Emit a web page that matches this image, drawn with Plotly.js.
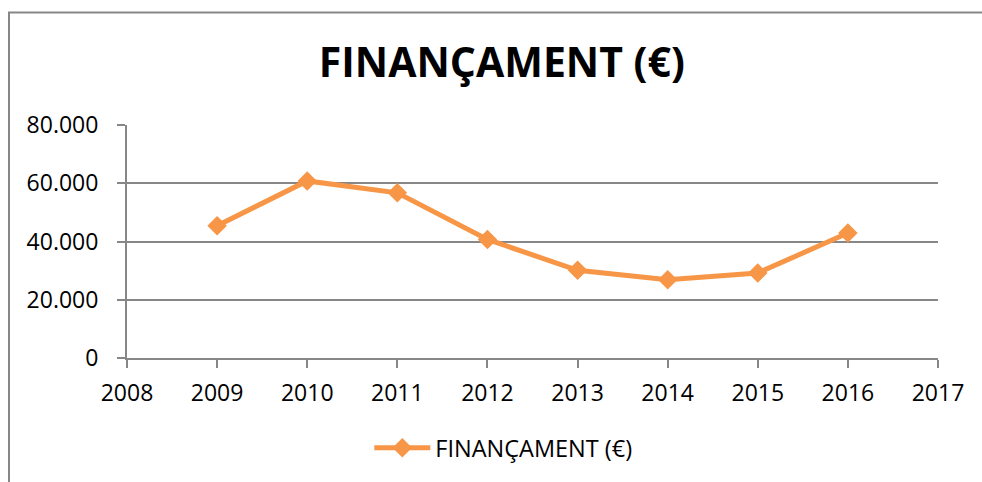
<!DOCTYPE html>
<html>
<head>
<meta charset="utf-8">
<script src="https://cdn.plot.ly/plotly-3.0.1.min.js"></script>
<style>html,body{margin:0;padding:0;background:#fff;}#chart{width:982px;height:482px;}</style>
</head>
<body>
<div id="chart"></div>
<script>
const years = [2009, 2010, 2011, 2012, 2013, 2014, 2015, 2016];
const funding = [45400, 60800, 56700, 40700, 30100, 26900, 29200, 42900];
const seriesName = 'FINANÇAMENT (€)';
const chartTitle = 'FINANÇAMENT (€)';
const yTicks = [0, 20000, 40000, 60000, 80000];
const xTicks = [2008, 2009, 2010, 2011, 2012, 2013, 2014, 2015, 2016, 2017];

const FONT = '"Open Sans", Lato, sans-serif';
const ORANGE = '#F79646';
const GRAY = '#878787';

const trace = {
  x: years, y: funding, name: seriesName, type: 'scatter', mode: 'lines+markers',
  line: {color: ORANGE, width: 5},
  marker: {symbol: 'diamond', size: 15, color: ORANGE},
  showlegend: true
};

const layout = {
  width: 982, height: 482,
  margin: {l: 127, r: 44, t: 125, b: 124},
  paper_bgcolor: '#fff', plot_bgcolor: '#fff',
  separators: ',.',
  font: {family: FONT, color: '#000', size: 23},
  title: {text: '<b>' + chartTitle + '</b>', font: {family: FONT, size: 41, color: '#000'}, x: 0.511, xanchor: 'center', y: 0.87, yanchor: 'middle'},
  xaxis: {
    range: [2008, 2017], tickvals: xTicks, ticktext: xTicks.map(String),
    showgrid: false, zeroline: false, showline: true, linecolor: GRAY, linewidth: 2,
    ticks: 'outside', ticklen: 8, tickwidth: 2, tickcolor: GRAY,
    tickfont: {family: FONT, size: 23, color: '#000'}, ticklabelstandoff: 5
  },
  yaxis: {
    range: [0, 80000], tickvals: yTicks, tickformat: ',d',
    showgrid: true, gridcolor: GRAY, gridwidth: 2, zeroline: false,
    showline: true, linecolor: GRAY, linewidth: 2,
    ticks: 'outside', ticklen: 8, tickwidth: 2, tickcolor: GRAY,
    tickfont: {family: FONT, size: 23, color: '#000'}, ticklabelstandoff: 14
  },
  legend: {orientation: 'h', x: 0.464, xanchor: 'center', y: -0.386, yanchor: 'middle',
    font: {family: FONT, size: 23.5, color: '#000'}, itemwidth: 56, bgcolor: 'rgba(0,0,0,0)'},
  shapes: [{type: 'rect', xref: 'paper', yref: 'paper',
    x0: (9 - 127) / 811, x1: (990 - 127) / 811, y0: (358 - 495) / 233, y1: (358 - 12.5) / 233,
    line: {color: GRAY, width: 2}, fillcolor: 'rgba(0,0,0,0)', layer: 'below'}]
};

Plotly.newPlot('chart', [trace], layout, {displayModeBar: false, staticPlot: true});
</script>
</body>
</html>
